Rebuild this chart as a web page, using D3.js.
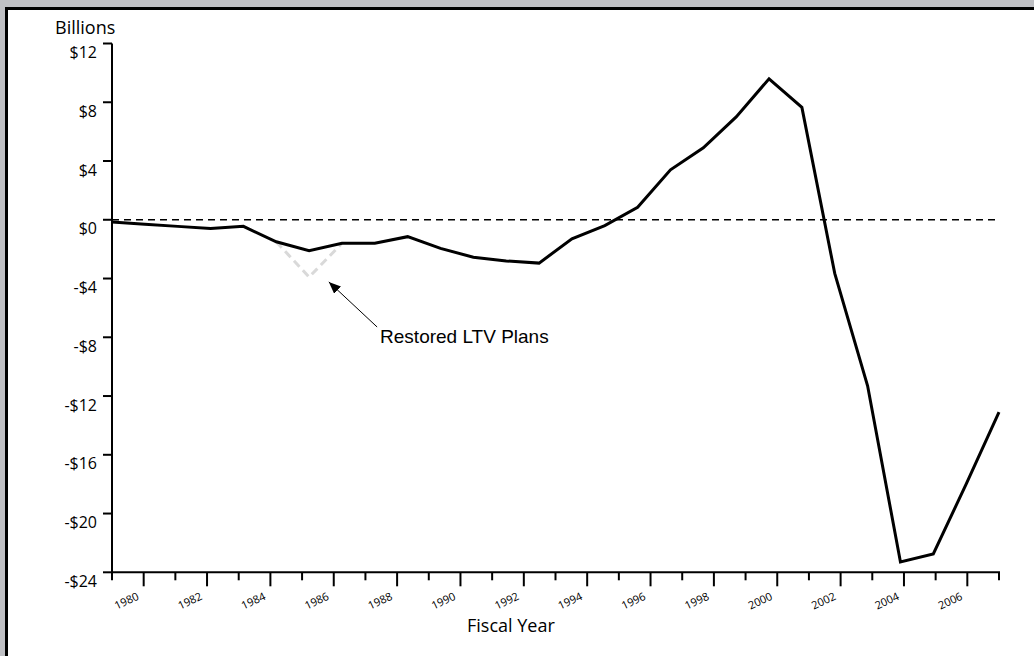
<!DOCTYPE html>
<html>
<head>
<meta charset="utf-8">
<script src="https://cdn.jsdelivr.net/npm/d3@7"></script>
<style>
  html, body { margin: 0; padding: 0; background: #bfc0c4; }
  svg { display: block; }
</style>
</head>
<body>
<svg id="chart" width="1034" height="656"></svg>
<script>
// ---- data ----
const years = [1980,1981,1982,1983,1984,1985,1986,1987,1988,1989,1990,1991,1992,1993,
               1994,1995,1996,1997,1998,1999,2000,2001,2002,2003,2004,2005,2006,2007];
const netPosition = [-0.15,-0.3,-0.45,-0.6,-0.45,-1.5,-2.1,-1.6,-1.6,-1.15,-1.95,-2.55,-2.8,-2.95,
                     -1.3,-0.4,0.85,3.4,4.9,7.0,9.6,7.65,-3.65,-11.3,-23.3,-22.75,-18.0,-13.1];
const restoredYears = [1985, 1986, 1987];
const restoredValues = [-1.5, -3.9, -1.6];
const yTicks = [12, 8, 4, 0, -4, -8, -12, -16, -20, -24];
const yTickLabels = ["$12","$8","$4","$0","-$4","-$8","-$12","-$16","-$20","-$24"];
const xTickYears = d3.range(1979, 2008);
const xLabelYears = [1980,1982,1984,1986,1988,1990,1992,1994,1996,1998,2000,2002,2004,2006];

(function () {
const svg = d3.select("#chart");
const W = 1034, H = 656;

// frame
svg.append("rect").attr("x", 0).attr("y", 0).attr("width", W).attr("height", H).attr("fill", "#bfc0c4");
svg.append("rect").attr("x", 5).attr("y", 7).attr("width", W - 5).attr("height", H - 7).attr("fill", "#ffffff");
svg.append("line").attr("x1", 5).attr("x2", W).attr("y1", 8.5).attr("y2", 8.5).attr("stroke", "#000").attr("stroke-width", 3);
svg.append("line").attr("x1", 6.5).attr("x2", 6.5).attr("y1", 7).attr("y2", H).attr("stroke", "#000").attr("stroke-width", 3);

// scales
const pLeft = 112, pRight = 999, pTop = 43.5, pBottom = 572.3;
const y = d3.scaleLinear().domain([-24, 12]).range([pBottom, pTop]);
const xPoint = d3.scalePoint().domain(years).range([pLeft, pRight]);
const xIdx = d3.scaleLinear().domain([0, years.length - 1]).range([pLeft, pRight]);
const xTick = d3.scaleLinear().domain([1979, 2007]).range([pLeft, pRight]);

const axisFont = "'Open Sans', 'Noto Sans', sans-serif";

// y axis
svg.append("line").attr("x1", pLeft).attr("x2", pLeft).attr("y1", pTop).attr("y2", pBottom)
  .attr("stroke", "#000").attr("stroke-width", 2);
yTicks.forEach((t, i) => {
  svg.append("line").attr("x1", pLeft - 9).attr("x2", pLeft).attr("y1", y(t)).attr("y2", y(t))
    .attr("stroke", "#000").attr("stroke-width", 2);
  svg.append("text").attr("x", 97).attr("y", y(t) + 9).attr("dy", "0.35em")
    .attr("text-anchor", "end").attr("font-family", axisFont).attr("font-size", 16)
    .attr("fill", "#000").text(yTickLabels[i]);
});

// x axis
svg.append("line").attr("x1", pLeft).attr("x2", pRight + 1).attr("y1", pBottom).attr("y2", pBottom)
  .attr("stroke", "#000").attr("stroke-width", 2);
xTickYears.forEach(yr => {
  const long = xLabelYears.includes(yr);
  svg.append("line").attr("x1", xTick(yr)).attr("x2", xTick(yr))
    .attr("y1", pBottom).attr("y2", pBottom + (long ? 14 : 8))
    .attr("stroke", "#000").attr("stroke-width", 2);
});
xLabelYears.forEach(yr => {
  svg.append("text")
    .attr("transform", `translate(${xTick(yr) - 4},${599}) rotate(-25)`)
    .attr("text-anchor", "end").attr("font-family", axisFont).attr("font-size", 11)
    .attr("fill", "#000").text(yr);
});

// axis titles
svg.append("text").attr("x", 55).attr("y", 34).attr("font-family", axisFont).attr("font-size", 18)
  .attr("fill", "#000").text("Billions");
svg.append("text").attr("x", 467).attr("y", 632).attr("font-family", axisFont).attr("font-size", 18)
  .attr("fill", "#000").text("Fiscal Year");

// zero line
svg.append("line").attr("x1", pLeft).attr("x2", 996).attr("y1", y(0)).attr("y2", y(0))
  .attr("stroke", "#000").attr("stroke-width", 1.5).attr("stroke-dasharray", "7,5");

// restored LTV plans (gray dashed)
const restored = restoredYears.map((yr, i) => [yr, restoredValues[i]]);
svg.append("path").datum(restored)
  .attr("d", d3.line().x(d => xPoint(d[0])).y(d => y(d[1])))
  .attr("fill", "none").attr("stroke", "#d9d9d9").attr("stroke-width", 3)
  .attr("stroke-dasharray", "8,5");

// main line
const series = years.map((yr, i) => [yr, netPosition[i]]);
svg.append("path").datum(series)
  .attr("d", d3.line().x(d => xPoint(d[0])).y(d => y(d[1])))
  .attr("fill", "none").attr("stroke", "#000").attr("stroke-width", 3)
  .attr("stroke-linejoin", "miter");

// annotation arrow
const defs = svg.append("defs");
defs.append("marker").attr("id", "arrow").attr("viewBox", "0 0 12 10")
  .attr("refX", 12).attr("refY", 5).attr("markerWidth", 12).attr("markerHeight", 10)
  .attr("markerUnits", "userSpaceOnUse").attr("orient", "auto")
  .append("path").attr("d", "M0,0 L12,5 L0,10 Z").attr("fill", "#000");
svg.append("line")
  .attr("x1", xIdx(8.07)).attr("y1", y(-7.3))
  .attr("x2", xIdx(6.6)).attr("y2", y(-4.23))
  .attr("stroke", "#000").attr("stroke-width", 1).attr("marker-end", "url(#arrow)");
svg.append("text").attr("x", xIdx(8.16)).attr("y", y(-8.4))
  .attr("font-family", "'Liberation Sans', Arial, sans-serif").attr("font-size", 19)
  .attr("fill", "#000").text("Restored LTV Plans");
})();
</script>
</body>
</html>
